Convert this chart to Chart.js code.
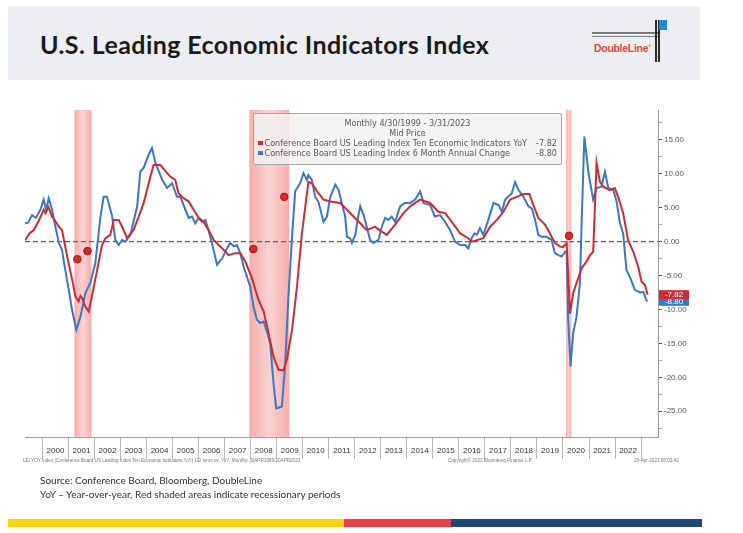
<!DOCTYPE html>
<html>
<head>
<meta charset="utf-8">
<script src="https://cdn.jsdelivr.net/npm/chart.js@4"></script>
<style>
  html, body { margin:0; padding:0; background:#ffffff; }
  body { width:743px; height:533px; position:relative; overflow:hidden; font-family: Lato, "Open Sans", sans-serif; }
  #header { position:absolute; left:8px; top:6px; width:692px; height:74px; background:#eceef2; }
  #title { position:absolute; left:40px; top:28px; font-family: Lato, sans-serif; font-weight:700; font-size:25px; letter-spacing:0.4px; color:#1b1b1b; white-space:nowrap; line-height:32px; }
  .hl { position:absolute; background:#7a7a7a; height:1.5px; }
  .vl { position:absolute; background:#2a2a2a; width:1.5px; }
  #logoText { position:absolute; left:594px; top:40px; font-family:"Liberation Sans", Arial, sans-serif; font-weight:700; font-size:10.5px; color:#e5463c; letter-spacing:-0.3px; line-height:11px; }
  #chartWrap { position:absolute; left:0; top:100px; width:743px; height:375px; }
  #legendBox { position:absolute; left:253px; top:113px; width:309px; height:52px; box-sizing:border-box; background:rgba(241,241,241,0.85); border:1px solid #a8a8a8; border-radius:2px; font-family:"DejaVu Sans",sans-serif; font-size:8.1px; color:#5a5a5a; padding:4px 4px 0 4px; }
  #legendBox .c { text-align:center; line-height:10px; height:10px; }
  #legendBox .r { display:flex; align-items:center; line-height:10px; height:10px; white-space:nowrap; }
  #legendBox .sq { width:4.5px; height:4.5px; margin-right:2px; flex:none; }
  #legendBox .v { margin-left:auto; }
  .foot { position:absolute; top:458px; font-family:"Liberation Sans", sans-serif; font-size:4.6px; color:#777; white-space:nowrap; }
  .src { position:absolute; left:40px; font-family: Lato, sans-serif; font-size:10px; color:#333; white-space:nowrap; }
  .bar { position:absolute; top:519px; height:8px; }
</style>
</head>
<body>
<div id="header"></div>
<div id="title">U.S. Leading Economic Indicators Index</div>
<div class="hl" style="left:592px; top:32px; width:67px;"></div>
<div class="hl" style="left:592px; top:35.5px; width:67px;"></div>
<div class="vl" style="left:655px; top:20px; height:42px;"></div>
<div class="vl" style="left:658px; top:20px; height:42px;"></div>
<div style="position:absolute; left:659px; top:20px; width:8px; height:10px; background:#1f8ae0;"></div>
<div id="logoText">DoubleLine<sup style="font-size:4px;">®</sup></div>

<div id="chartWrap"><canvas id="c" width="743" height="375"></canvas></div>

<div id="legendBox">
  <div class="c" id="lgPeriod"></div>
  <div class="c">Mid Price</div>
  <div class="r"><span class="sq" style="background:#d02a36"></span><span id="lgRedName"></span><span class="v" id="lgRedVal"></span></div>
  <div class="r"><span class="sq" style="background:#3a78c0"></span><span id="lgBlueName"></span><span class="v" id="lgBlueVal"></span></div>
</div>

<div class="foot" style="left:23px;">LEI YOY Index (Conference Board US Leading Index Ten Economic Indicators YoY) LEI Ismo vs. YoY &nbsp;Monthly 30APR1999-20APR2023</div>
<div class="foot" style="left:448px;">Copyright© 2023 Bloomberg Finance L.P.</div>
<div class="foot" style="left:634px;">20-Apr-2023 08:03:42</div>

<div class="src" style="top:474px;">Source: Conference Board, Bloomberg, DoubleLine</div>
<div class="src" style="top:488px;">YoY – Year-over-year, Red shaded areas indicate recessionary periods</div>

<div class="bar" style="left:8px; width:336px; background:#ffd400;"></div>
<div class="bar" style="left:344px; width:107px; background:#ee3b45;"></div>
<div class="bar" style="left:451px; width:251px; background:#1d4a7a;"></div>

<script>
// ---------- DATA ----------
const periodLabel = "Monthly 4/30/1999 - 3/31/2023";
const redName = "Conference Board US Leading Index Ten Economic Indicators YoY";
const blueName = "Conference Board US Leading Index 6 Month Annual Change";

// LEI YoY (red): decimal-year dates and values
const redX = [1999.33,1999.5,1999.67,1999.85,2000.05,2000.12,2000.23,2000.37,2000.5,2000.63,2000.75,2000.95,2001.14,2001.27,2001.39,2001.46,2001.52,2001.65,2001.78,2001.9,2002.1,2002.29,2002.42,2002.61,2002.74,2002.93,2003.06,2003.25,2003.5,2003.7,2003.89,2004.15,2004.27,2004.53,2004.79,2004.91,2005.1,2005.23,2005.42,2005.62,2005.81,2006.0,2006.19,2006.38,2006.58,2006.77,2006.96,2007.15,2007.41,2007.6,2007.79,2008.05,2008.3,2008.5,2008.69,2008.88,2009.07,2009.26,2009.39,2009.59,2009.78,2009.97,2010.1,2010.22,2010.35,2010.55,2010.8,2011.06,2011.44,2011.7,2011.95,2012.21,2012.46,2012.78,2012.95,2013.23,2013.55,2013.87,2014.13,2014.51,2014.89,2015.21,2015.47,2015.73,2016.05,2016.36,2016.5,2016.94,2017.2,2017.46,2017.71,2017.97,2018.22,2018.48,2018.71,2018.86,2019.05,2019.31,2019.5,2019.69,2019.88,2020.0,2020.14,2020.27,2020.39,2020.52,2020.72,2020.91,2021.04,2021.16,2021.29,2021.42,2021.55,2021.8,2021.99,2022.12,2022.31,2022.5,2022.7,2022.89,2023.02,2023.15,2023.25];
const redY = [0.2,1.2,1.7,3.0,4.7,4.2,5.1,3.7,3.0,2.2,1.7,-2.2,-5.6,-8.1,-8.8,-8.0,-8.3,-9.6,-10.3,-8.1,-4.2,-0.5,0.5,1.0,3.2,3.2,2.2,0.5,1.7,3.7,5.7,9.6,11.3,11.3,10.1,9.6,9.1,7.1,6.4,5.9,4.7,3.5,2.9,1.7,0.25,-0.5,-1.2,-2.0,-1.7,-1.7,-2.9,-5.4,-8.6,-10.3,-13.5,-17.0,-18.9,-19.0,-17.4,-13.0,-6.6,1.2,5.2,8.8,8.6,7.4,6.2,5.9,5.7,4.7,3.7,2.7,1.7,2.2,1.7,1.0,2.5,4.2,5.2,6.2,5.7,4.4,4.2,2.9,1.2,0.5,0.0,0.5,2.2,3.2,4.4,6.2,6.6,7.0,7.0,5.4,3.5,2.5,1.2,-0.2,-0.7,-0.8,-0.2,-10.6,-7.6,-6.1,-3.9,-2.9,-2.0,-1.5,11.6,8.8,8.1,7.6,7.9,6.6,4.2,0.25,-1.5,-3.7,-5.9,-6.4,-7.82];

// LEI 6-month annualized change (blue)
const blueX = [1999.33,1999.45,1999.6,1999.75,1999.92,2000.05,2000.14,2000.24,2000.37,2000.5,2000.63,2000.75,2000.88,2001.01,2001.14,2001.3,2001.46,2001.65,2001.84,2002.03,2002.23,2002.35,2002.48,2002.68,2002.8,2002.93,2003.06,2003.19,2003.38,2003.64,2003.76,2003.89,2004.08,2004.21,2004.34,2004.6,2004.79,2004.98,2005.17,2005.3,2005.49,2005.62,2005.75,2005.87,2006.0,2006.13,2006.26,2006.38,2006.51,2006.71,2006.9,2007.09,2007.22,2007.35,2007.47,2007.6,2007.73,2007.98,2008.11,2008.24,2008.37,2008.5,2008.63,2008.75,2008.88,2008.98,2009.2,2009.33,2009.45,2009.59,2009.71,2009.9,2010.03,2010.16,2010.22,2010.35,2010.48,2010.6,2010.8,2010.93,2011.06,2011.25,2011.38,2011.5,2011.63,2011.7,2011.82,2011.89,2012.02,2012.14,2012.21,2012.34,2012.46,2012.59,2012.72,2012.91,2013.04,2013.17,2013.29,2013.42,2013.55,2013.74,2013.93,2014.13,2014.32,2014.51,2014.64,2014.89,2015.08,2015.28,2015.47,2015.66,2015.85,2016.05,2016.24,2016.36,2016.49,2016.6,2016.69,2016.81,2016.94,2017.13,2017.33,2017.52,2017.65,2017.78,2018.03,2018.16,2018.29,2018.48,2018.67,2018.8,2018.93,2019.05,2019.18,2019.37,2019.56,2019.69,2019.82,2019.95,2020.08,2020.14,2020.2,2020.29,2020.39,2020.52,2020.65,2020.72,2020.82,2020.98,2021.16,2021.29,2021.48,2021.61,2021.74,2021.93,2022.06,2022.19,2022.31,2022.44,2022.57,2022.76,2022.96,2023.09,2023.2,2023.25];
const blueY = [2.7,2.8,3.9,3.5,4.7,6.2,4.7,6.4,4.7,2.2,-0.2,-1.2,-4.2,-7.1,-10.1,-13.0,-11.1,-7.6,-6.1,-3.2,3.7,6.6,6.6,3.7,0.25,-0.5,0.25,0.0,1.0,5.2,10.3,10.9,12.8,13.8,11.6,9.1,7.9,8.6,6.6,6.6,4.7,3.5,3.7,2.7,3.5,2.9,3.2,1.7,-0.2,-3.4,-2.5,-1.0,-0.2,-0.7,-0.5,-1.7,-3.7,-6.6,-9.6,-11.5,-12.0,-11.8,-13.3,-15.0,-20.9,-24.6,-24.3,-17.9,-8.1,0.7,7.4,8.6,10.1,9.1,9.8,9.1,6.6,5.9,2.9,3.7,6.6,8.4,7.6,5.7,3.7,0.7,0.5,-0.2,1.0,3.9,5.2,3.9,2.2,0.25,-0.2,0.25,2.2,3.5,3.2,3.7,2.9,5.2,5.7,5.7,6.2,7.4,5.7,5.4,3.7,3.9,2.9,1.7,0.0,-0.5,-0.5,-1.0,0.5,1.2,1.0,2.0,1.0,3.2,5.7,5.4,4.4,6.2,7.1,8.8,7.6,6.6,5.2,4.9,3.2,1.0,0.7,0.7,0.25,-1.7,-2.0,-2.2,-1.5,-1.7,-11.5,-18.4,-13.5,-11.1,-6.1,3.2,15.5,10.1,6.2,7.9,8.1,10.3,7.9,7.6,5.9,2.7,1.2,-4.2,-5.2,-7.1,-7.5,-7.4,-8.6,-8.8];

// Bloomberg event markers
const markerX = [2001.34, 2001.73, 2008.1, 2009.29, 2020.23];
const markerY = [-2.6, -1.4, -1.1, 6.6, 0.85];

// Recession periods (start, end in decimal years)
const recessionStart = [2001.23, 2007.95, 2020.12];
const recessionEnd   = [2001.88, 2009.48, 2020.32];

// Axis settings
const xMin = 1999.33, xMax = 2023.65;
const yMin = -28.8, yMax = 19.4;
const yearTicks = [];
for (let yr = 2000; yr <= 2023; yr++) yearTicks.push(yr);

// ---------- LEGEND TEXT ----------
const lastRed = redY[redY.length - 1], lastBlue = blueY[blueY.length - 1];
document.getElementById('lgPeriod').textContent = periodLabel;
document.getElementById('lgRedName').textContent = redName;
document.getElementById('lgBlueName').textContent = blueName;
document.getElementById('lgRedVal').textContent = lastRed.toFixed(2);
document.getElementById('lgBlueVal').textContent = lastBlue.toFixed(2);

const RED = '#d02a36', BLUE = '#3a78c0';

const toPts = (xs, ys) => xs.map((x, i) => ({ x: x, y: ys[i] }));

const recessionPlugin = {
  id: 'recessions',
  beforeDatasetsDraw(chart) {
    const { ctx, chartArea, scales } = chart;
    ctx.save();
    recessionStart.forEach((s, i) => {
      const x0 = scales.x.getPixelForValue(s);
      const x1 = scales.x.getPixelForValue(recessionEnd[i]);
      const g = ctx.createLinearGradient(x0, 0, x1, 0);
      g.addColorStop(0, '#f6aeae');
      g.addColorStop(0.5, '#fbd2d2');
      g.addColorStop(1, '#f6aeae');
      ctx.fillStyle = g;
      ctx.fillRect(x0, chartArea.top, x1 - x0, chartArea.bottom - chartArea.top);
    });
    ctx.restore();
  }
};

const endLabelPlugin = {
  id: 'endLabels',
  afterDraw(chart) {
    const { ctx, chartArea, scales } = chart;
    const items = [[lastBlue, BLUE], [lastRed, RED]];
    ctx.save();
    items.forEach(([v, col]) => {
      const y = scales.y.getPixelForValue(v);
      const x = chartArea.right + 1;
      ctx.fillStyle = col;
      ctx.fillRect(x, y - 4.5, 30, 9);
      ctx.fillStyle = '#ffffff';
      ctx.font = '8px "Liberation Sans", sans-serif';
      ctx.textAlign = 'center';
      ctx.textBaseline = 'middle';
      ctx.fillText(v.toFixed(2), x + 15, y + 0.5);
    });
    ctx.restore();
  }
};

new Chart(document.getElementById('c'), {
  type: 'line',
  data: {
    datasets: [
      { label: 'markers', data: toPts(markerX, markerY), showLine: false, pointRadius: 3.8, pointStyle: 'circle',
        pointBackgroundColor: '#d8262a', pointBorderColor: '#b01818', pointBorderWidth: 1, order: 0 },
      { label: redName, data: toPts(redX, redY), borderColor: RED, borderWidth: 2, pointRadius: 0, tension: 0, order: 1 },
      { label: blueName, data: toPts(blueX, blueY), borderColor: BLUE, borderWidth: 2, pointRadius: 0, tension: 0, order: 2 },
      { label: 'zero', data: [{ x: xMin, y: 0 }, { x: xMax, y: 0 }], borderColor: '#666666', borderWidth: 1.2,
        borderDash: [5, 3], pointRadius: 0, order: 3 }
    ]
  },
  options: {
    responsive: false,
    animation: false,
    events: [],
    layout: { padding: { left: 25, right: 35, top: 10, bottom: 14 } },
    plugins: { legend: { display: false }, tooltip: { enabled: false } },
    scales: {
      x: {
        type: 'linear', min: xMin, max: xMax,
        afterBuildTicks: s => {
          const t = [];
          yearTicks.forEach(yr => { t.push({ value: yr }); if (yr < 2023) t.push({ value: yr + 0.5 }); });
          s.ticks = t;
        },
        ticks: {
          autoSkip: false, maxRotation: 0, padding: -13, color: '#333',
          font: { size: 8, family: '"Liberation Sans", sans-serif' },
          callback: v => Number.isInteger(v) ? '' : String(Math.floor(v))
        },
        grid: {
          drawOnChartArea: false, tickLength: 22, tickWidth: 1,
          tickColor: ctx => (ctx.tick && Number.isInteger(ctx.tick.value)) ? '#b8b8b8' : 'rgba(0,0,0,0)'
        },
        border: { color: '#a0a0a0', width: 1 },
        afterFit: s => { s.height = 24; }
      },
      y: {
        position: 'right', min: yMin, max: yMax,
        afterBuildTicks: s => {
          const t = [];
          for (let v = -27.5; v <= 17.5 + 1e-9; v += 2.5) t.push({ value: Math.round(v * 10) / 10 });
          s.ticks = t;
        },
        ticks: {
          autoSkip: false, padding: 2, color: '#5a5a5a',
          font: { size: 8, family: '"Liberation Sans", sans-serif' },
          callback: v => (Math.abs(v % 5) < 1e-9) ? (v === 0 ? '0.00' : v.toFixed(2)) : ''
        },
        grid: { drawOnChartArea: false, tickLength: 4, tickColor: ctx => (ctx.tick && Math.abs(ctx.tick.value % 5) < 1e-9) ? '#555' : '#aaa' },
        border: { color: '#9a9a9a', width: 1 },
        afterFit: s => { s.width = 50; }
      }
    }
  },
  plugins: [recessionPlugin, endLabelPlugin]
});
</script>
</body>
</html>
